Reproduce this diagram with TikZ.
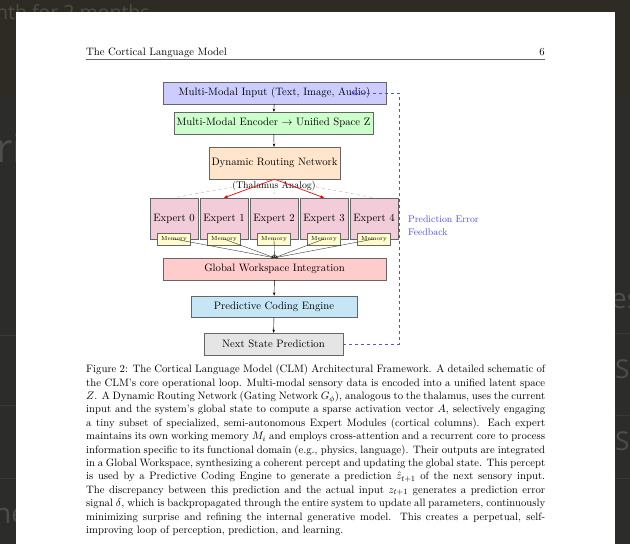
\documentclass[tikz,border=0pt]{standalone}
\usepackage{fontspec}
\newfontfamily\bgfont{Open Sans}
\usetikzlibrary{calc,arrows.meta}
\definecolor{bgdark}{HTML}{2C2C2B}
\definecolor{bgtop}{HTML}{2E2B25}
\definecolor{bgtext}{HTML}{4E4D4A}
\definecolor{bgline}{HTML}{383838}
\definecolor{pcec}{HTML}{C6E6F6}
\definecolor{fbblue}{HTML}{4D4DFF}
\newcommand\capf{\fontsize{10.72}{13.4}\selectfont}
\newcommand\boxf{\fontsize{10.72}{13}\selectfont}
\newcommand\smallf{\fontsize{9.79}{12.8}\selectfont}
\newcommand\memf{\fontsize{5.87}{7}\selectfont}
\begin{document}
\begin{tikzpicture}[x=1pt,y=-1pt,
  box/.style={draw=black!60, line width=0.4pt, inner sep=0pt, font=\boxf, align=center},
  expert/.style={box, fill=purple!20, minimum width=48pt, minimum height=41pt},
  mem/.style={box, fill=yellow!20, minimum width=33pt, minimum height=12pt, font=\memf},
  flow/.style={-{Stealth[length=3.2pt,width=2.6pt]}, line width=0.45pt, black},
  memline/.style={-{Stealth[length=3.2pt,width=2.6pt]}, line width=0.35pt, black!85},
  gatedash/.style={dashed, gray!60, line width=0.4pt},
  gatered/.style={-{Stealth[length=4pt,width=3.2pt]}, red, line width=0.65pt},
  fb/.style={-{Stealth[length=4pt,width=3.2pt]}, fbblue, dashed, line width=0.7pt},
  bgt/.style={anchor=base west, inner sep=0pt, text=bgtext}
]
\useasboundingbox (0,0) rectangle (630,544);
\clip (0,0) rectangle (630,544);
% screenshot background
\fill[bgdark] (0,0) rectangle (630,544);
\fill[bgtop] (0,0) rectangle (630,95);
\node[bgt, font=\bgfont\fontsize{19.5}{20}\selectfont] at (-4,19) {nth for 2 months};
\node[bgt, font=\bgfont\fontsize{40}{40}\selectfont] at (-4,162) {ri};
\node[bgt, font=\bgfont\fontsize{28}{28}\selectfont] at (-6,523) {ne};
\node[bgt, font=\bgfont\fontsize{28}{28}\selectfont] at (611,308) {es};
\node[bgt, font=\bgfont\fontsize{26}{26}\selectfont] at (615,378) {Se};
\node[bgt, font=\bgfont\fontsize{26}{26}\selectfont] at (615,450) {Se};
\foreach \yy in {335,405,478} \draw[bgline] (0,\yy) -- (16,\yy);
\foreach \yy in {333,415,478} \draw[bgline] (615,\yy) -- (630,\yy);
% page
\fill[white] (16,12) rectangle (615,560);
% header
\node[anchor=base west, inner sep=0pt, font=\capf] (htitle) at (86,55.5) {The Cortical Language Model};
\node[anchor=base east, inner sep=0pt, font=\capf] (hpage) at (545,55.5) {6};
\draw[line width=0.45pt, black!60] (86,59.5) -- (545,59.5);
% diagram
\node[box, fill=blue!20, minimum width=223pt, minimum height=22pt] (input) at (274.5,93) {Multi-Modal Input (Text, Image, Audio)};
\node[box, fill=green!20, minimum width=199pt, minimum height=22pt] (enc) at (273.5,123) {Multi-Modal Encoder $\rightarrow$ Unified Space Z};
\node[box, fill=orange!20, minimum width=131pt, minimum height=32pt] (route) at (274.5,163) {Dynamic Routing Network};
\foreach \i/\xx in {0/174,1/224,2/274,3/324,4/374} {
  \node[expert] (e\i) at (\xx,218.5) {Expert \i};
}
\foreach \i in {0,...,4} \draw[gatedash] (route.south) -- (e\i.north);
\node[fill=white, inner sep=0.8pt, font=\smallf] (thal) at (274,186.5) {(Thalamus Analog)};
\draw[gatered] (route.south) -- (e1.north);
\draw[gatered] (route.south) -- (e3.north);
\foreach \i/\xx in {0/174,1/224,2/274,3/324,4/374} {
  \node[mem] (m\i) at (\xx,239) {Memory};
}
\node[box, fill=red!20, minimum width=223pt, minimum height=22pt] (gw) at (274.5,269) {Global Workspace Integration};
\foreach \i in {0,...,4} \draw[memline] (m\i.center) -- (gw.north);
\node[box, fill=pcec, minimum width=166pt, minimum height=21.5pt] (pce) at (274,306.5) {Predictive Coding Engine};
\node[box, fill=gray!20, minimum width=139pt, minimum height=22pt] (nsp) at (273.5,344) {Next State Prediction};
\draw[flow] (input) -- (enc);
\draw[flow] (enc) -- (route);
\draw[flow] (gw) -- (pce);
\draw[flow] (pce) -- (nsp);
\coordinate (fbend) at ($(input.east)+(-35,0)$);
\draw[fb] (nsp.east) -- ++(56,0) |- (fbend);
\node[anchor=west, inner sep=0pt, align=left, font=\smallf, text=fbblue] (fblabel) at (408,225.5) {Prediction Error\\Feedback};
% caption
\node[anchor=north west, inner sep=0pt, text width=459pt, align=justify, font=\capf] (caption) at (86,364.5) {\noindent
Figure 2: The Cortical Language Model (CLM) Architectural Framework. A detailed schematic of\linebreak
the CLM's core operational loop. Multi-modal sensory data is encoded into a unified latent space\linebreak
$Z$. A Dynamic Routing Network (Gating Network $G_\phi$), analogous to the thalamus, uses the current\linebreak
input and the system's global state to compute a sparse activation vector $A$, selectively engaging\linebreak
a tiny subset of specialized, semi-autonomous Expert Modules (cortical columns). Each expert\linebreak
maintains its own working memory $M_i$ and employs cross-attention and a recurrent core to process\linebreak
information specific to its functional domain (e.g., physics, language). Their outputs are integrated\linebreak
in a Global Workspace, synthesizing a coherent percept and updating the global state. This percept\linebreak
is used by a Predictive Coding Engine to generate a prediction $\hat{z}_{t+1}$ of the next sensory input.\linebreak
The discrepancy between this prediction and the actual input $z_{t+1}$ generates a prediction error\linebreak
signal $\delta$, which is backpropagated through the entire system to update all parameters, continuously\linebreak
minimizing surprise and refining the internal generative model. This creates a perpetual, self-\linebreak
improving loop of perception, prediction, and learning.};
\end{tikzpicture}
\end{document}
